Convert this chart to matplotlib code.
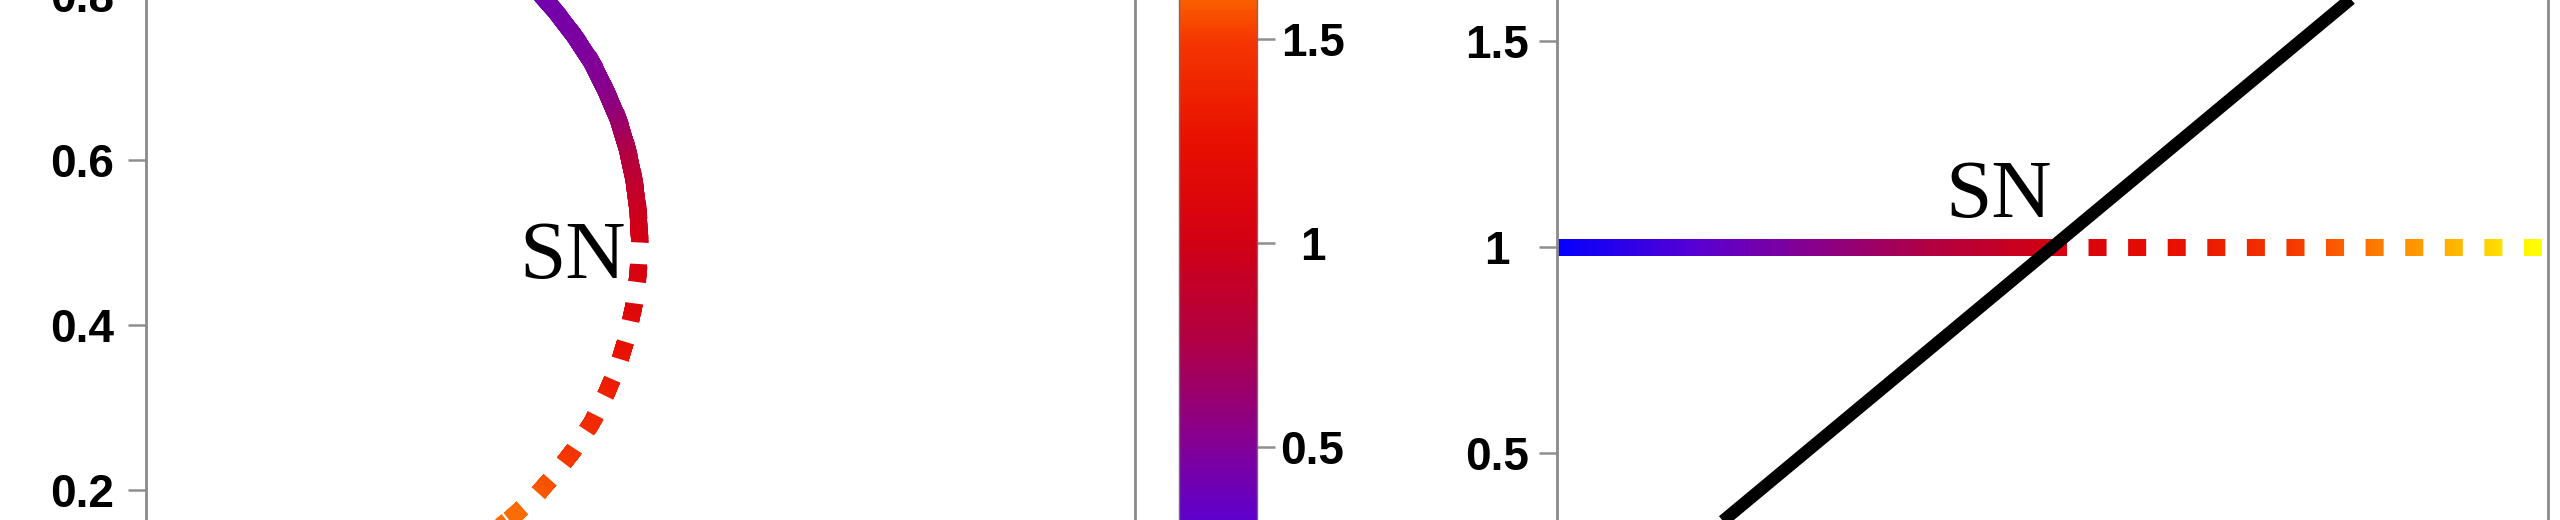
import numpy as np
import matplotlib
matplotlib.use("Agg")
import matplotlib.pyplot as plt
from matplotlib.collections import LineCollection
from matplotlib.colors import LinearSegmentedColormap, Normalize
from matplotlib.cm import ScalarMappable

# left panel branch (x, y and colour parameter)
left_x = [0.444, 0.472, 0.497, 0.520, 0.541, 0.558, 0.573, 0.584, 0.592, 0.597, 0.599,
          0.597, 0.592, 0.584, 0.573, 0.558, 0.541, 0.520, 0.497, 0.472, 0.444, 0.414]
left_y = [0.833, 0.808, 0.780, 0.750, 0.718, 0.684, 0.649, 0.613, 0.576, 0.538, 0.500,
          0.462, 0.424, 0.387, 0.351, 0.316, 0.282, 0.250, 0.220, 0.192, 0.167, 0.144]
left_c = [0.36, 0.40, 0.43, 0.46, 0.49, 0.52, 0.60, 0.72, 0.84, 0.93, 1.00,
          1.05, 1.10, 1.20, 1.28, 1.35, 1.40, 1.45, 1.52, 1.58, 1.63, 1.68]
left_sn = 10          # index of the SN point: solid before, dotted after
left_yticks = [0.2, 0.4, 0.6, 0.8]
left_ylabels = ["0.2", "0.4", "0.6", "0.8"]

# right panel: branch at y = 1, coloured by x, and the black line
right_x = [0.0, 1.03, 2.0]
right_y = [1.0, 1.0, 1.0]
right_c = [0.0, 1.03, 2.0]
right_sn = 1
black_x = [0.2, 1.8]
black_y = [0.2, 1.8]
right_yticks = [0.5, 1.0, 1.5]
right_ylabels = ["0.5", "1", "1.5"]

cbar_ticks = [0.5, 1.0, 1.5]
cbar_labels = ["0.5", "1", "1.5"]

# colour scale blue -> red -> yellow
cmap_vals = [0.0, 0.3, 0.5, 0.75, 1.0, 1.25, 1.5, 1.6, 1.75, 1.9, 2.0]
cmap_cols = ["#0000ff", "#5a00d2", "#820096", "#af0046", "#d20014", "#e80f00",
             "#f53700", "#fa5f00", "#ff9600", "#ffd200", "#ffff00"]
cmap = LinearSegmentedColormap.from_list(
    "branch", [(v / 2.0, c) for v, c in zip(cmap_vals, cmap_cols)])
norm = Normalize(0, 2)

plt.rcParams["font.family"] = "Liberation Sans"
plt.rcParams["font.weight"] = "bold"
plt.rcParams["lines.scale_dashes"] = False

LW = 12.2       # branch width, pt
GAP, DASH = 15.5, 13.0
SPINE = "#8a8a8a"
TICK = "#8f8f8f"
FS = 33


def colour_line(ax, xs, ys, cs, n):
    segs, vals = [], []
    for i in range(len(xs) - 1):
        t = np.linspace(0, 1, n + 1)
        px = xs[i] + (xs[i + 1] - xs[i]) * t
        py = ys[i] + (ys[i + 1] - ys[i]) * t
        for j in range(n):
            segs.append([(px[j], py[j]), (px[j + 1], py[j + 1])])
            vals.append(cs[i] + (cs[i + 1] - cs[i]) * (j + 0.5) / n)
    lc = LineCollection(segs, cmap=cmap, norm=norm, linewidths=LW,
                        capstyle="projecting", zorder=2)
    lc.set_array(np.array(vals))
    ax.add_collection(lc)


def dot_mask(ax, xs, ys):
    # white dashes over the unstable part leave square dots behind
    ax.plot(xs, ys, color="white", lw=LW + 2.5, linestyle=(0, (GAP, DASH)),
            dash_capstyle="butt", zorder=2.1)


def style_axis(ax, ticks, labels, pad):
    for s in ax.spines.values():
        s.set_color(SPINE)
        s.set_linewidth(2.0)
    ax.set_xticks([])
    ax.set_yticks(ticks)
    ax.set_yticklabels(labels, ha="center", fontsize=FS, fontweight="bold")
    ax.tick_params(axis="y", direction="out", length=13, width=1.8,
                   color=TICK, pad=pad)


W, H = 2560, 520
fig = plt.figure(figsize=(W / 100, H / 100), dpi=100)

# panels are taller than the strip, only their middle is seen
ax1 = fig.add_axes([146 / W, -400 / H, 989 / W, 1320 / H])
ax1.set_xlim(0, 1.2)
ax1.set_ylim(-0.3212, 1.2788)
colour_line(ax1, left_x, left_y, left_c, 12)
dot_mask(ax1, left_x[left_sn:], left_y[left_sn:])
ax1.text(0.518, 0.457, "SN", family="Liberation Serif", fontweight="normal",
         fontsize=60, ha="center", va="baseline", zorder=3)
style_axis(ax1, left_yticks, left_ylabels, 33)

cax = fig.add_axes([1179 / W, -131 / H, 78 / W, 816 / H])
cb = fig.colorbar(ScalarMappable(norm=norm, cmap=cmap), cax=cax)
cb.outline.set_edgecolor("#6e6e6e")
cb.outline.set_linewidth(1.0)
cb.set_ticks(cbar_ticks)
cb.set_ticklabels(cbar_labels)
for lbl in cax.get_yticklabels():
    lbl.set_horizontalalignment("center")
    lbl.set_fontsize(FS)
    lbl.set_fontweight("bold")
cax.tick_params(axis="y", direction="out", length=13, width=1.8,
                color=TICK, pad=27)

ax2 = fig.add_axes([1557 / W, -400 / H, 991 / W, 1320 / H])
ax2.set_xlim(0, 2)
ax2.set_ylim(-0.6335, 2.5704)
colour_line(ax2, right_x, right_y, right_c, 120)
dot_mask(ax2, right_x[right_sn:], right_y[right_sn:])
ax2.plot(black_x, black_y, color="black", lw=9, solid_capstyle="butt", zorder=2.2)
ax2.text(0.891, 1.073, "SN", family="Liberation Serif", fontweight="normal",
         fontsize=60, ha="center", va="baseline", zorder=3)
style_axis(ax2, right_yticks, right_ylabels, 30)

fig.savefig("out.png", dpi=100)
